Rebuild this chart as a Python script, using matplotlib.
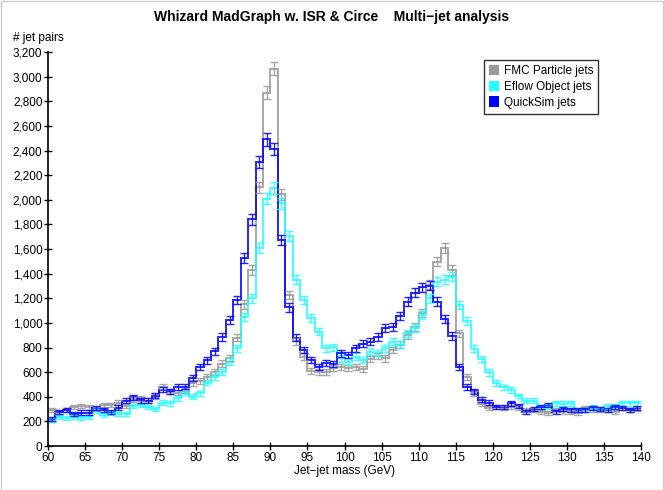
import numpy as np
import matplotlib
matplotlib.use('Agg')
import matplotlib.pyplot as plt
from matplotlib.patches import Patch, Rectangle
from matplotlib.ticker import FuncFormatter, MultipleLocator

plt.rcParams['font.family'] = ['Liberation Sans', 'DejaVu Sans']

# 1 GeV bins from 60 to 140 GeV
bin_edges = np.arange(60, 141, 1)

fmc_particle = [
    292, 279, 292, 319, 327, 314, 298, 333, 333, 352,
    325, 379, 387, 368, 400, 482, 441, 433, 449, 514,
    530, 563, 604, 670, 715, 880, 1150, 1430, 2100, 2868,
    3065, 2045, 1227, 850, 725, 612, 604, 604, 631, 644,
    631, 644, 623, 705, 730, 712, 780, 821, 902, 969,
    1077, 1308, 1497, 1610, 1430, 915, 563, 430, 340, 306,
    319, 306, 319, 306, 290, 292, 279, 271, 292, 279,
    279, 271, 306, 292, 290, 292, 279, 306, 292, 298,
]

eflow_object = [
    211, 233, 225, 238, 225, 238, 285, 252, 265, 260,
    260, 325, 333, 319, 298, 352, 347, 387, 433, 400,
    428, 515, 563, 604, 685, 793, 1045, 1200, 1605, 2010,
    2095, 1971, 1707, 1349, 1186, 1037, 929, 793, 802, 712,
    685, 725, 699, 766, 755, 793, 847, 821, 915, 956,
    1064, 1200, 1335, 1349, 1375, 1145, 1018, 790, 708, 597,
    514, 477, 455, 406, 368, 368, 319, 322, 347, 344,
    347, 292, 290, 319, 298, 322, 322, 347, 347, 347,
]

quicksim = [
    222, 275, 295, 262, 272, 272, 306, 295, 276, 312,
    368, 396, 371, 368, 408, 458, 445, 480, 482, 550,
    640, 695, 770, 885, 1024, 1185, 1525, 1840, 2305, 2490,
    2410, 1673, 1125, 880, 780, 699, 639, 672, 666, 753,
    739, 793, 829, 847, 885, 956, 969, 1056, 1172, 1245,
    1289, 1300, 1172, 1029, 893, 644, 480, 445, 375, 352,
    319, 316, 347, 325, 279, 298, 319, 333, 279, 298,
    290, 290, 292, 306, 298, 290, 319, 306, 290, 306,
]

series = [
    ("FMC Particle jets", fmc_particle, "#999999"),
    ("Eflow Object jets", eflow_object, "#22ffff"),
    ("QuickSim jets", quicksim, "#0000ff"),
]

fig = plt.figure(figsize=(6.64, 4.90), dpi=100)
fig.patches.append(Rectangle((0.001, 0.001), 0.998, 0.997, transform=fig.transFigure,
                             fill=False, edgecolor="#cccccc", lw=1))
ax = fig.add_axes([48 / 664, 1 - 446 / 490, (641 - 48) / 664, (446 - 52) / 490])

centers = 0.5 * (bin_edges[:-1] + bin_edges[1:])
handles = []
for label, vals, color in series:
    vals = np.array(vals, dtype=float)
    ax.stairs(vals, bin_edges, baseline=None, color=color, lw=1.4, alpha=0.85)
    ax.errorbar(centers, vals, yerr=np.sqrt(vals), fmt='none', ecolor=color,
                elinewidth=1.0, capsize=2.6, capthick=1.0, alpha=0.85)
    handles.append(Patch(facecolor=color, edgecolor='none', label=label))

ax.set_xlim(60, 140)
ax.set_ylim(0, 3200)
ax.xaxis.set_major_locator(MultipleLocator(5))
ax.yaxis.set_major_locator(MultipleLocator(200))
ax.yaxis.set_major_formatter(FuncFormatter(lambda v, p: f"{int(v):,}"))
ax.tick_params(direction='inout', length=6, width=1, labelsize=8.5, colors='black', pad=1)
for side in ('top', 'right'):
    ax.spines[side].set_visible(False)
for side in ('left', 'bottom'):
    ax.spines[side].set_linewidth(1.2)

ax.set_xlabel("Jet\u2212jet mass (GeV)", fontsize=8.5, labelpad=1)
fig.text(13 / 664, 1 - 38 / 490, "# jet pairs", fontsize=8.5, ha='left', va='center')
fig.text(0.5, 1 - 17 / 490, "Whizard MadGraph w. ISR & Circe    Multi\u2212jet analysis",
         fontsize=10, fontweight='bold', ha='center', va='center')

leg = ax.legend(handles=handles, loc='upper left', bbox_to_anchor=(484 / 664, 1 - 60 / 490),
                bbox_transform=fig.transFigure, fontsize=8.5, frameon=True, fancybox=False,
                handlelength=0.9, handleheight=1.0, handletextpad=0.4, borderpad=0.4,
                labelspacing=0.3, borderaxespad=0)
leg.get_frame().set_edgecolor('black')
leg.get_frame().set_linewidth(1.0)

fig.savefig("out.png", dpi=100)
